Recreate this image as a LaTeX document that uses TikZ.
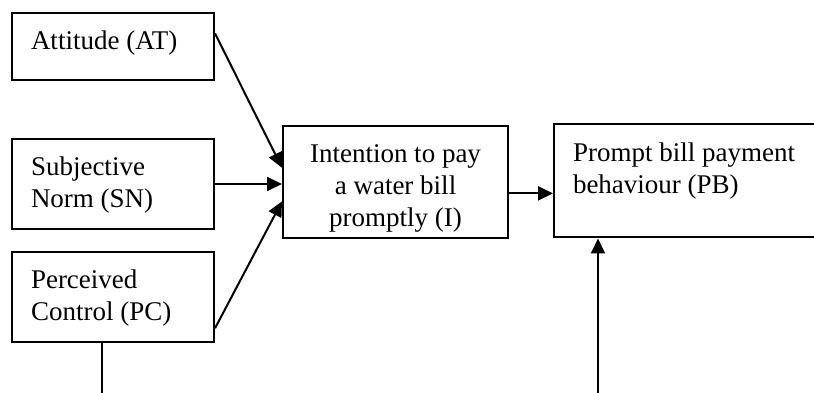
\documentclass[tikz,border=0pt]{standalone}
\usepackage{fontspec}
\setmainfont{Liberation Serif}
\usetikzlibrary{calc,arrows.meta}

\tikzset{
  box/.style={draw, line width=1bp, anchor=north west, inner xsep=9.5bp, inner ysep=8.5bp,
    text height=10bp, font=\fontsize{13.5bp}{16bp}\selectfont},
  link/.style={line width=1bp, -{Triangle[length=7.5bp,width=7bp]}}
}

\begin{document}
\begin{tikzpicture}[x=0.5bp,y=-0.5bp]
    \useasboundingbox (0,0) rectangle (814,393);

    \node[box, align=flush left, text width=82bp, text depth=6.5bp] (at) at (11,12) {Attitude (AT)};
    \node[box, align=flush left, text width=82bp, text depth=18bp] (sn) at (11,138) {Subjective\\Norm (SN)};
    \node[box, align=flush left, text width=82bp, text depth=18bp] (pc) at (11,251) {Perceived\\Control (PC)};
    \node[box, align=flush center, text width=93.5bp, text depth=29bp] (i) at (282,125) {Intention to pay\\a water bill\\promptly (I)};
    \node[box, align=flush left, text width=140bp, text depth=29.5bp] (pb) at (553,123.5) {Prompt bill payment\\behaviour (PB)};

    \coordinate (at1) at ($(at.north east)!0.31!(at.south east)$);
    \coordinate (pc1) at ($(pc.north east)!0.84!(pc.south east)$);
    \coordinate (iat) at ($(i.north west)!0.375!(i.south west)$);
    \coordinate (ipc) at ($(i.north west)!0.67!(i.south west)$);
    \coordinate (i1) at ($(i.north east)!0.6!(i.south east)$);
    \coordinate (pcfoot) at (102,393);
    \coordinate (pbfoot) at (598,393);

    \draw[link] (at1) -- (iat);
    \draw[link] (sn.east) -- (sn.east -| i.west);
    \draw[link] (pc1) -- (ipc);
    \draw[link] (i1) -- (i1 -| pb.west);
    \draw[line width=1bp] (pcfoot |- pc.south) -- (pcfoot);
    \draw[link] (pbfoot) -- (pbfoot |- pb.south);

\end{tikzpicture}
\end{document}
